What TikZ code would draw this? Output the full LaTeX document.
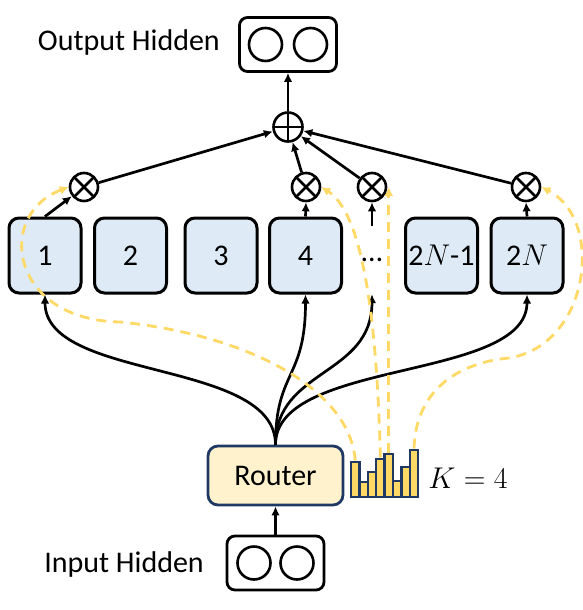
\RequirePackage{fix-cm}
\documentclass[tikz,border=0pt]{standalone}
\usepackage{fontspec}
\setmainfont{Carlito}
\usetikzlibrary{arrows.meta, calc}

\begin{document}
\begin{tikzpicture}[x=1pt, y=-1pt,
  every node/.style={font=\fontsize{30}{36}\selectfont},
  expertbox/.style={draw, rounded corners=10pt, line width=3pt, fill=expblue,
    minimum width=72pt, minimum height=75pt, inner sep=0pt},
  hiddenbox/.style={draw, rounded corners=8pt, line width=2.8pt,
    minimum width=97pt, minimum height=54pt, inner sep=0pt},
  unit/.style={draw, circle, line width=2.6pt, minimum size=33pt, inner sep=0pt},
  mulnode/.style={draw, circle, line width=2.6pt, minimum size=28pt, inner sep=0pt,
    path picture={\draw[line width=2.6pt]
      (path picture bounding box.south west) -- (path picture bounding box.north east)
      (path picture bounding box.north west) -- (path picture bounding box.south east);}},
  sumnode/.style={draw, circle, line width=2.6pt, minimum size=29pt, inner sep=0pt,
    path picture={\draw[line width=2.6pt]
      (path picture bounding box.north) -- (path picture bounding box.south)
      (path picture bounding box.west) -- (path picture bounding box.east);}},
  flow/.style={-{Latex[length=9pt, width=8.5pt]}, line width=2.7pt},
  gate/.style={-{Latex[length=9pt, width=9pt]}, line width=2.8pt, draw=gold,
    dash pattern=on 10pt off 7pt},
  barbox/.style={draw=navy, fill=gold, line width=2.5pt, minimum width=8.4pt,
    inner sep=0pt, anchor=south}
]
  % Define colors
  \definecolor{expblue}{RGB}{222,235,247}
  \definecolor{routery}{RGB}{255,242,204}
  \definecolor{navy}{RGB}{31,56,100}
  \definecolor{gold}{RGB}{255,217,102}

  \useasboundingbox (0,0) rectangle (583,610);

  % Output hidden state
  \node[hiddenbox] (outbox) at (288,44.5) {};
  \node[unit] (out1) at ($(outbox.center)+(-22.5,0)$) {};
  \node[unit] (out2) at ($(outbox.center)+(22.5,0)$) {};
  \node[anchor=east, inner sep=0pt] (outlabel) at (220,43) {Output Hidden};

  % Sum of the weighted expert outputs
  \node[sumnode] (sum) at (288,127) {};

  % Experts (with labels)
  \foreach \i/\x/\lab in {
    1/45/1,
    2/130.5/2,
    3/221/3,
    4/305.5/4,
    5/441.5/2$N$-1,
    6/527/2$N$
  } {
    \node[expertbox] (exp\i) at (\x,255.5) {\lab};
  }

  % Dots to indicate more experts
  \node[minimum height=68pt, inner sep=0pt] (dots) at (372,260) {\dots};

  % Gate products
  \foreach \name/\x in {mul1/84, mul4/306, muldots/372, mul6/526} {
    \node[mulnode] (\name) at (\x,187) {};
  }

  % Router and input hidden state
  \node[draw=navy, fill=routery, rounded corners=10pt, line width=2.8pt,
        minimum width=135pt, minimum height=59pt] (router) at (275.5,475.5) {Router};
  \node[hiddenbox] (inbox) at (275.5,563) {};
  \node[unit] (in1) at ($(inbox.center)+(-21.5,0)$) {};
  \node[unit] (in2) at ($(inbox.center)+(21.5,0)$) {};
  \node[anchor=east, inner sep=0pt] (inlabel) at (204,564) {Input Hidden};

  % Routing scores (top-K bars)
  \foreach \i/\h in {1/35, 2/15, 3/25, 4/38, 5/43, 6/16, 7/30, 8/47} {
    \node[barbox, minimum height=\h pt] (bar\i) at ({351+(\i-0.5)*8.4},498) {};
  }
  \node[inner sep=0pt] (klabel) at (468,478) {$K=4$};

  % Arrows into and out of the router
  \draw[flow] (inbox.north) -- (router.south);
  \draw[flow] (router.north) .. controls +(0,-86) and +(0,87) .. (exp1.south);
  \draw[flow] (router.north) .. controls +(0,-74) and +(0,85) .. (exp4.south);
  \draw[flow] (router.north) .. controls +(0,-76) and +(0,82) .. (dots.south);
  \draw[flow] (router.north) .. controls +(0,-86) and +(0,87) .. (exp6.south);

  % Experts to products, products to sum
  \draw[flow] (exp1.north) -- (mul1);
  \draw[flow] (exp4.north) -- (mul4.south);
  \draw[flow] (dots.north) -- (muldots.south);
  \draw[flow] (exp6.north) -- (mul6.south);
  \foreach \m in {mul1, mul4, muldots, mul6} {
    \draw[flow] (\m) -- (sum);
  }
  \draw[flow] (sum) -- (outbox.south);

  % Gate weights from the chosen bars
  \draw[gate] (bar1.north) .. controls (350,390) and (250,335) .. (120,322)
    .. controls (10,320) and (-5,215) .. (mul1.west);
  \draw[gate] (bar4.north) .. controls (377,330) and (365,215) .. (mul4.east);
  \draw[gate] (bar5.north) -- (bar5.north |- muldots.east);
  \draw[gate] (bar8.north) .. controls (416,385) and (465,362) .. (509,358)
    .. controls (590,345) and (605,220) .. (mul6.east);

\end{tikzpicture}
\end{document}
